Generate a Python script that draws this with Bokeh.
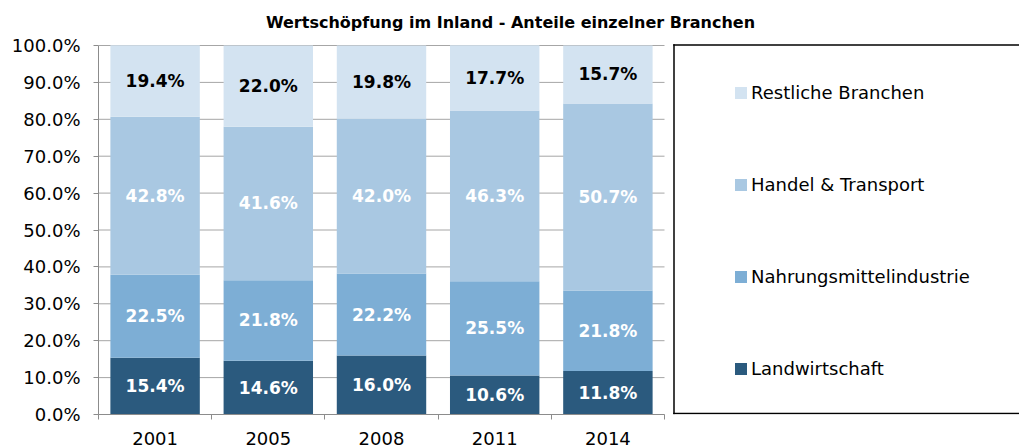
from bokeh.plotting import figure
from bokeh.models import (Range1d, FixedTicker, PrintfTickFormatter, Legend, LegendItem, Label)
from bokeh.core.properties import value
from bokeh.embed import file_html
from bokeh.resources import INLINE

# ---- data ----
years = ["2001", "2005", "2008", "2011", "2014"]
series_names = ["Landwirtschaft", "Nahrungsmittelindustrie", "Handel & Transport", "Restliche Branchen"]
landwirtschaft = [15.4, 14.6, 16.0, 10.6, 11.8]
nahrungsmittel = [22.5, 21.8, 22.2, 25.5, 21.8]
handel_transport = [42.8, 41.6, 42.0, 46.3, 50.7]
restliche = [19.4, 22.0, 19.8, 17.7, 15.7]
y_tick_values = [0, 10, 20, 30, 40, 50, 60, 70, 80, 90, 100]
title_text = "Wertschöpfung im Inland - Anteile einzelner Branchen"

series_values = [landwirtschaft, nahrungsmittel, handel_transport, restliche]
colors = ["#2B5A7E", "#7DAED5", "#A9C8E2", "#D3E3F1"]
label_colors = ["#FFFFFF", "#FFFFFF", "#FFFFFF", "#000000"]
FONT = "DejaVu Sans"
AXIS_GREY = "#8C8C8C"

# ---- layout (pixels) ----
W, H = 1019, 448
LEFT, BOTTOM = 98, 34
PLOT_RIGHT, PLOT_TOP = 664, 45          # end of the bar area inside the canvas
frame_w = W - LEFT
frame_h = H - BOTTOM
n = len(years)
x_end = n * frame_w / (PLOT_RIGHT - LEFT)
y_end = 100.0 * frame_h / (frame_h - PLOT_TOP)
px_x = x_end / frame_w      # data units per pixel
px_y = y_end / frame_h

p = figure(width=W, height=H, output_backend="svg", toolbar_location=None,
           x_range=Range1d(0, x_end), y_range=Range1d(0, y_end),
           min_border_left=LEFT, min_border_right=0, min_border_top=0, min_border_bottom=BOTTOM)
p.outline_line_color = None
p.background_fill_color = "white"
p.border_fill_color = "white"
p.xgrid.grid_line_color = None
p.ygrid.grid_line_color = None

# horizontal gridlines, only across the bar area
p.segment(x0=[0] * len(y_tick_values), x1=[n] * len(y_tick_values),
          y0=y_tick_values, y1=y_tick_values, line_color="#A6A6A6", line_width=1,
          level="underlay")

xc = [i + 0.5 for i in range(n)]
bottoms = [0.0] * n
renderers = []
for vals, col, lcol in zip(series_values, colors, label_colors):
    tops = [b + v for b, v in zip(bottoms, vals)]
    r = p.vbar(x=xc, bottom=bottoms, top=tops, width=0.79, fill_color=col, line_color=None)
    renderers.append(r)
    mids = [(b + t) / 2 for b, t in zip(bottoms, tops)]
    p.text(x=xc, y=mids, text=["%.1f%%" % v for v in vals], text_align="center",
           text_baseline="middle", text_font=value(FONT), text_font_size="17px",
           text_font_style="bold", text_color=lcol)
    bottoms = tops

# y axis
p.yaxis.ticker = FixedTicker(ticks=y_tick_values)
p.yaxis.bounds = (0, 100)
p.yaxis.formatter = PrintfTickFormatter(format="%.1f%%")
p.yaxis.axis_line_color = AXIS_GREY
p.yaxis.major_tick_line_color = AXIS_GREY
p.yaxis.major_tick_out = 5
p.yaxis.major_tick_in = 0
p.yaxis.minor_tick_line_color = None
p.yaxis.major_label_standoff = 13
p.yaxis.major_label_text_font = FONT
p.yaxis.major_label_text_font_size = "18px"
p.yaxis.major_label_text_color = "#000000"

# x axis: labels at bar centres, ticks between categories
p.xaxis.ticker = FixedTicker(ticks=xc, minor_ticks=list(range(n + 1)))
p.xaxis.bounds = (0, n)
p.xaxis.major_label_overrides = {x: y for x, y in zip(xc, years)}
p.xaxis.axis_line_color = AXIS_GREY
p.xaxis.major_tick_line_color = None
p.xaxis.major_tick_out = 0
p.xaxis.major_tick_in = 0
p.xaxis.minor_tick_line_color = AXIS_GREY
p.xaxis.minor_tick_out = 5
p.xaxis.minor_tick_in = 0
p.xaxis.major_label_standoff = 12
p.xaxis.major_label_text_font = FONT
p.xaxis.major_label_text_font_size = "18px"
p.xaxis.major_label_text_color = "#000000"

# title (screen units relative to the frame)
title = Label(x=510 - LEFT, y=frame_h - 22, x_units="screen", y_units="screen", text=title_text,
              text_align="center", text_baseline="middle", text_font=FONT,
              text_font_size="16px", text_font_style="bold", text_color="#000000")
p.add_layout(title)

# legend frame: left, top and bottom edges only (the right edge is off the canvas)
bx0 = (673.5 - LEFT) * px_x
bx1 = x_end * 1.3
by1 = (frame_h - 44.5) * px_y
by0 = (frame_h - 413.0) * px_y
p.segment(x0=[bx0, bx0, bx0], y0=[by1, by0, by0], x1=[bx1, bx1, bx0], y1=[by1, by0, by1],
          line_color="#000000", line_width=1.5, line_cap="square")

items = [LegendItem(label=nm, renderers=[r]) for nm, r in zip(series_names, renderers)][::-1]
legend = Legend(items=items, location=(733 - LEFT, frame_h - 379), orientation="vertical",
                glyph_width=15, glyph_height=15, label_height=22, label_width=10,
                label_standoff=3, label_text_font=FONT, label_text_font_size="18px",
                label_text_color="#000000", border_line_color=None,
                background_fill_alpha=0.0, spacing=70, padding=0, margin=0)
p.add_layout(legend)

open("out.html", "w").write(file_html(p, INLINE))
